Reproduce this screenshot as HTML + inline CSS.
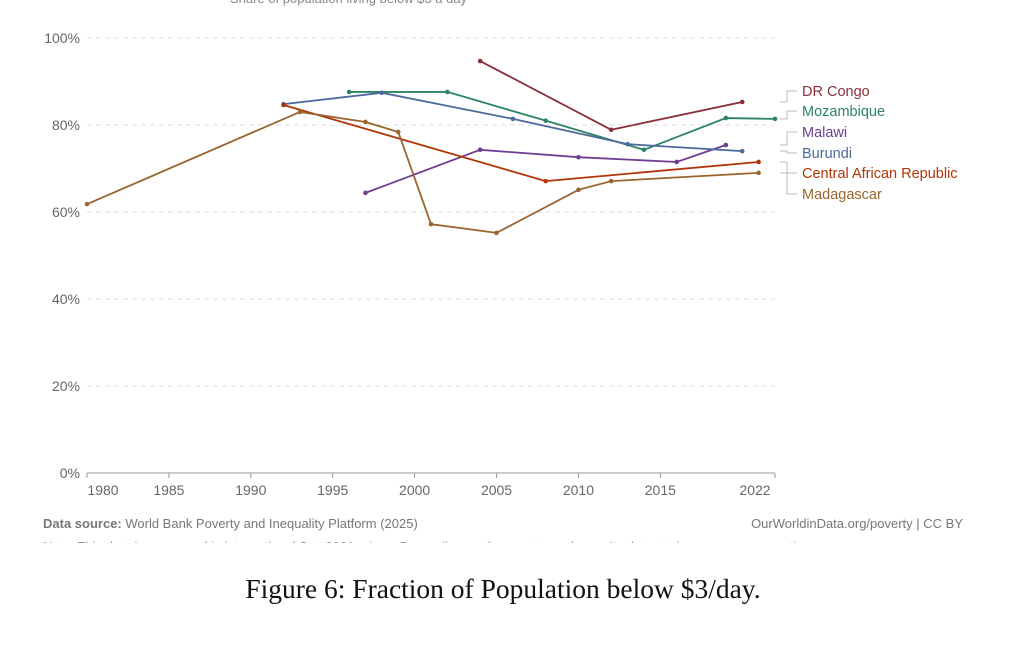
<!DOCTYPE html>
<html><head><meta charset="utf-8"><style>
body{margin:0;background:#fff;width:1019px;height:649px;overflow:hidden;font-family:"Liberation Sans",sans-serif}
</style></head><body>
<svg id="chart" width="1019" height="649" xmlns="http://www.w3.org/2000/svg">
<text x="230" y="3" font-size="13" fill="#888">Share of population living below $3 a day</text>
<g id="grid"></g><g id="series"></g><g id="labels"></g>
<text x="43" y="528" font-size="13" fill="#777"><tspan font-weight="bold">Data source:</tspan> World Bank Poverty and Inequality Platform (2025)</text>
<text x="963" y="528" font-size="13" fill="#777" text-anchor="end">OurWorldinData.org/poverty | CC BY</text>
<text x="43" y="551" font-size="13" fill="#999">Note: This data is expressed in international-$ at 2021 prices. Depending on the country and year, it relates to income or consumption.</text>
<rect x="0" y="543" width="1019" height="20" fill="#fff"/>
<text x="503" y="598" font-size="27.5" font-family="Liberation Serif,serif" text-anchor="middle" fill="#111">Figure 6: Fraction of Population below $3/day.</text>
</svg>
<script>
const names=["DR Congo","Mozambique","Malawi","Burundi","Central African Republic","Madagascar"];
const colors=["#883039","#2c8465","#6d3e91","#4c6a9c","#b13507","#9a652e"];
const years=[[2004,2012,2020],[1996,2002,2008,2014,2019,2022],[1997,2004,2010,2016,2019],[1992,1998,2006,2013,2020],[1992,2008,2021],[1980,1993,1997,1999,2001,2005,2010,2012,2021]];
const values=[[94.7,78.9,85.3],[87.6,87.6,81,74.3,81.6,81.4],[64.4,74.3,72.6,71.5,75.4],[84.8,87.4,81.4,75.6,74],[84.6,67.1,71.5],[61.8,83,80.7,78.4,57.2,55.2,65.1,67.1,69]];
const yTicks=[0,20,40,60,80,100];
const xTicks=[1980,1985,1990,1995,2000,2005,2010,2015,2022];
const labelY=[91,111,132,153,173,194];
const NS="http://www.w3.org/2000/svg";
const X=y=>87+(y-1980)*(775-87)/42;
const Y=v=>473-v*4.35;
function mk(t,a,p){const e=document.createElementNS(NS,t);for(const k in a)e.setAttribute(k,a[k]);p.appendChild(e);return e;}
const grid=document.getElementById('grid'),ser=document.getElementById('series'),lab=document.getElementById('labels');
yTicks.forEach(v=>{
 if(v>0){const l=mk('line',{x1:87,x2:775,y1:Y(v),y2:Y(v),stroke:'#ddd','stroke-dasharray':'5,4'},grid);
 
 }
 const t=mk('text',{x:80,y:Y(v)+5,'font-size':14,fill:'#666','text-anchor':'end'},grid);t.textContent=v+'%';
 
 
});
mk('line',{x1:87,x2:775,y1:473,y2:473,stroke:'#999'},grid);
xTicks.forEach((yr,i)=>{
 mk('line',{x1:X(yr),x2:X(yr),y1:473,y2:478,stroke:'#999'},grid);
 const t=mk('text',{x:i==0?X(yr)+16:(i==xTicks.length-1?X(yr)-20:X(yr)),y:495,'font-size':14,fill:'#666','text-anchor':'middle'},grid);t.textContent=yr;
 
 
});
names.forEach((n,i)=>{
 const pts=years[i].map((y,j)=>X(y)+','+Y(values[i][j])).join(' ');
 const pl=mk('polyline',{points:pts,fill:'none',stroke:colors[i],'stroke-width':1.8},ser);
 
 
 years[i].forEach((y,j)=>{const c=mk('circle',{cx:X(y),cy:Y(values[i][j]),r:2.3,fill:colors[i]},ser);
 
 });
 const ey=Y(values[i][values[i].length-1]);
 mk('polyline',{points:`780,${ey} 787,${ey} 787,${labelY[i]} 797,${labelY[i]}`,fill:'none',stroke:'#bbb'},lab);
 const t=mk('text',{x:802,y:labelY[i]+5,'font-size':14.5,fill:colors[i]},lab);t.textContent=n;
 
 
});
</script>
</body></html>
